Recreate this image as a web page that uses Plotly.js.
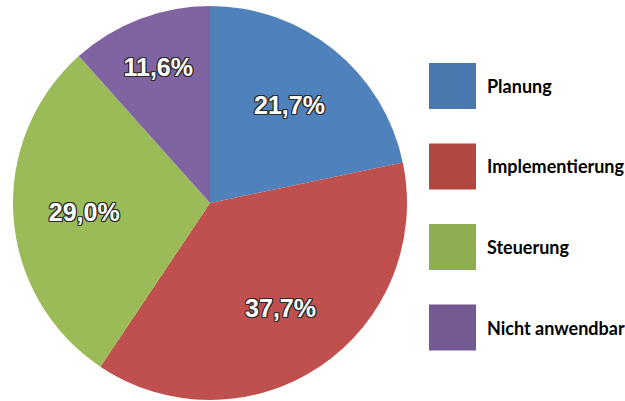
<!DOCTYPE html>
<html>
<head>
<meta charset="utf-8">
<script src="https://cdn.plot.ly/plotly-3.0.1.min.js"></script>
<style>html,body{margin:0;padding:0;background:#fff;}#chart{width:625px;height:401px;}</style>
</head>
<body>
<div id="chart"></div>
<script>
const categories = ["Planung", "Implementierung", "Steuerung", "Nicht anwendbar"];
const shares = [21.7, 37.7, 29.0, 11.6];
const sliceColors = ["#4F81BD", "#C0504D", "#9BBB59", "#8064A2"];
const legendColors = ["#4A78AE", "#B2473F", "#8FAD52", "#735A93"];

const W = 625, H = 401;
const cx = 210, cy = 203, R = 197;
const dom = { x: [(cx - R) / W, (cx + R) / W], y: [(H - cy - R) / H, (H - cy + R) / H] };

const base = {
  type: "pie",
  labels: categories,
  values: shares,
  sort: false,
  direction: "clockwise",
  rotation: 0,
  hoverinfo: "none",
  showlegend: false,
  domain: dom
};

const fillTrace = Object.assign({}, base, {
  marker: { colors: sliceColors, line: { width: 0 } },
  textinfo: "none"
});

const labelTrace = Object.assign({}, base, {
  hole: 0.28,
  marker: { colors: categories.map(() => "rgba(0,0,0,0)"), line: { width: 0 } },
  texttemplate: "%{value:.1f}%",
  textposition: "inside",
  insidetextorientation: "horizontal",
  textfont: {
    family: "Liberation Sans, Arial, sans-serif",
    size: 25,
    weight: 700,
    color: "#ffffff",
    shadow: "-1px -1px 0 #2a2a2a, 1px -1px 0 #2a2a2a, -1px 1px 0 #2a2a2a, 1px 1px 0 #2a2a2a, 0 1px 0 #2a2a2a, 0 -1px 0 #2a2a2a, 1px 0 0 #2a2a2a, -1px 0 0 #2a2a2a"
  }
});

const shapes = [];
const annotations = [];
const legTop = 86, legStep = 80.5;
categories.forEach((c, i) => {
  const yc = legTop + i * legStep;
  shapes.push({
    type: "rect", xref: "paper", yref: "paper",
    x0: 429 / W, x1: 476 / W, y0: 1 - (yc + 23) / H, y1: 1 - (yc - 23) / H,
    fillcolor: legendColors[i], line: { width: 0 }
  });
  annotations.push({
    xref: "paper", yref: "paper", x: 485 / W, y: 1 - yc / H,
    xanchor: "left", yanchor: "middle", showarrow: false,
    text: "<b>" + c + "</b>",
    font: { family: "Lato, Noto Sans, sans-serif", size: 18, color: "#000000" }
  });
});

const layout = {
  width: W, height: H,
  margin: { l: 0, r: 0, t: 0, b: 0 },
  paper_bgcolor: "#ffffff",
  separators: ",.",
  shapes: shapes,
  annotations: annotations
};

Plotly.newPlot("chart", [fillTrace, labelTrace], layout, { displayModeBar: false, staticPlot: true });
</script>
</body>
</html>
